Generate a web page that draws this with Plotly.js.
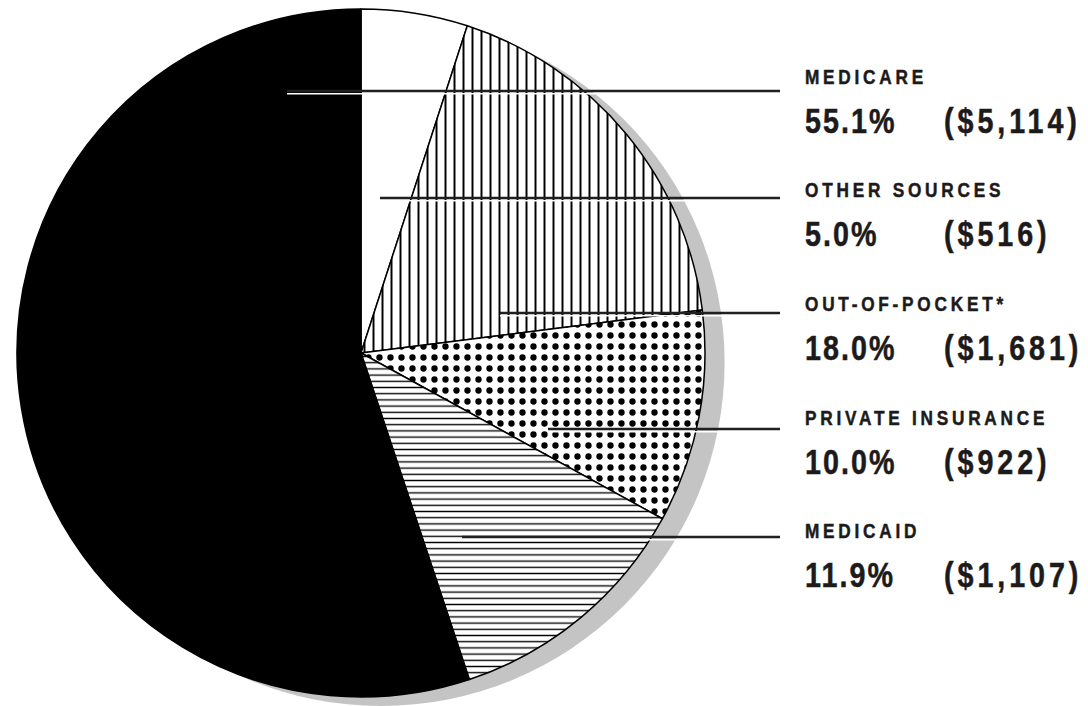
<!DOCTYPE html>
<html>
<head>
<meta charset="utf-8">
<script src="https://cdn.plot.ly/plotly-3.0.1.min.js"></script>
<style>
  html, body { margin: 0; padding: 0; background: #ffffff; }
  #chart { width: 1088px; height: 706px; }
  /* condensed look: horizontally compress the label text (Liberation Sans -> narrow proportions) */
  .annotation-text {
    transform-box: fill-box;
    transform-origin: 0% 50%;
    transform: scaleX(0.82);
    stroke: #1c1a1a;
    stroke-width: 0.5px;
  }
</style>
</head>
<body>
<div id="chart"></div>
<script>
// ---- data ----
const categories = ['OTHER SOURCES', 'OUT-OF-POCKET*', 'PRIVATE INSURANCE', 'MEDICAID', 'MEDICARE'];
const percents   = [5.0, 18.0, 10.0, 11.9, 55.1];
const dollars    = [516, 1681, 922, 1107, 5114];
const patterns   = ['', '|', '.', '-', ''];
const sliceColors = ['#ffffff', '#ffffff', '#ffffff', '#ffffff', '#000000'];
// order of the labels from top to bottom (indices into categories)
const labelOrder = [4, 0, 1, 2, 3];

// ---- layout helpers (pixels -> paper) ----
const W = 1088, H = 706;
const px = x => x / W;
const py = y => 1 - y / H;

// leader lines: [start x, y] for each label group (top to bottom)
const leaderStart = [[287, 91], [380, 198], [500, 313], [548, 429], [462, 537]];
const leaderEndX = 780;
const nameY = [76.5, 190, 303.5, 417, 530.5];
const valueY = [120.5, 234, 347.5, 461, 574.5];
const textX = 803, dollarX = 942;
const ink = '#1c1a1a';
const fontFam = '"Liberation Sans", Arial, sans-serif';

const shadow = {
  type: 'pie',
  values: [1],
  labels: ['shadow'],
  marker: { colors: ['#c4c4c4'], line: { width: 0 } },
  textinfo: 'none',
  hoverinfo: 'skip',
  sort: false,
  showlegend: false,
  domain: { x: [px(37), px(725)], y: [0, py(19)] }
};

const pie = {
  type: 'pie',
  values: percents,
  labels: categories,
  sort: false,
  direction: 'clockwise',
  rotation: 0,
  textinfo: 'none',
  hoverinfo: 'label+percent',
  showlegend: false,
  marker: {
    colors: sliceColors,
    line: { color: '#000000', width: 1.5 },
    pattern: {
      shape: patterns,
      fgcolor: '#000000',
      bgcolor: sliceColors,
      fillmode: 'replace',
      size: [8, 9, 11, 6.2, 8],
      solidity: [0.2, 0.22, 0.26, 0.22, 0.2]
    }
  },
  domain: { x: [px(17), px(705)], y: [py(697), py(9)] }
};

const shapes = [];
const annotations = [];
labelOrder.forEach((ci, k) => {
  const [sx, sy] = leaderStart[k];
  // thin white edge under the leader
  shapes.push({
    type: 'line', xref: 'paper', yref: 'paper', layer: 'above',
    x0: px(sx), x1: px(leaderEndX), y0: py(sy + 2.8), y1: py(sy + 2.8),
    line: { color: '#ffffff', width: 1.6 }
  });
  shapes.push({
    type: 'line', xref: 'paper', yref: 'paper', layer: 'above',
    x0: px(sx), x1: px(leaderEndX), y0: py(sy), y1: py(sy),
    line: { color: '#231f20', width: 2.4 }
  });
  annotations.push({
    xref: 'paper', yref: 'paper', x: px(textX), y: py(nameY[k]),
    xanchor: 'left', yanchor: 'middle', align: 'left', showarrow: false,
    text: '<span style="letter-spacing:4.6px">' + categories[ci] + '</span>',
    font: { family: fontFam, size: 21, color: ink, weight: 'bold' }
  });
  annotations.push({
    xref: 'paper', yref: 'paper', x: px(textX), y: py(valueY[k]),
    xanchor: 'left', yanchor: 'middle', align: 'left', showarrow: false,
    text: '<span style="letter-spacing:2.5px">' + percents[ci].toFixed(1) + '%</span>',
    font: { family: fontFam, size: 35, color: ink, weight: 'bold' }
  });
  annotations.push({
    xref: 'paper', yref: 'paper', x: px(dollarX), y: py(valueY[k]),
    xanchor: 'left', yanchor: 'middle', align: 'left', showarrow: false,
    text: '<span style="letter-spacing:4.8px">($' + dollars[ci].toLocaleString('en-US') + ')</span>',
    font: { family: fontFam, size: 35, color: ink, weight: 'bold' }
  });
});

const layout = {
  width: W, height: H,
  margin: { l: 0, r: 0, t: 0, b: 0, pad: 0 },
  paper_bgcolor: '#ffffff',
  plot_bgcolor: '#ffffff',
  showlegend: false,
  shapes: shapes,
  annotations: annotations
};

Plotly.newPlot('chart', [shadow, pie], layout, { displayModeBar: false, staticPlot: true });
</script>
</body>
</html>
